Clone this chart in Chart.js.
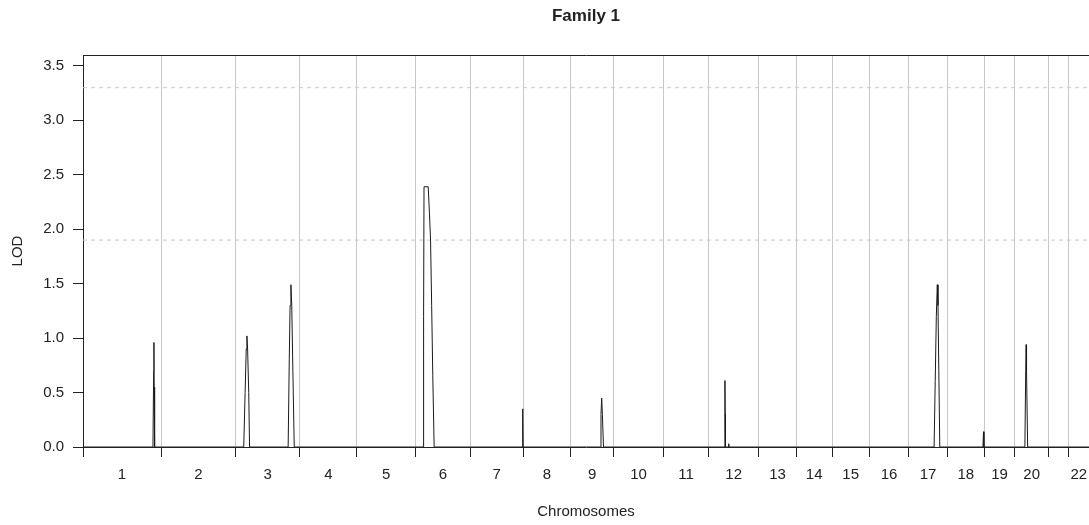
<!DOCTYPE html>
<html>
<head>
<meta charset="utf-8">
<title>Family 1</title>
<script src="https://cdn.jsdelivr.net/npm/chart.js@4.4.1/dist/chart.umd.min.js"></script>
<style>
  html, body { margin: 0; padding: 0; background: #fff; }
  canvas { display: block; }
</style>
</head>
<body>
<canvas id="lodChart" width="1089" height="525"></canvas>
<script>
const chromosomes = ["1", "2", "3", "4", "5", "6", "7", "8", "9", "10", "11",
  "12", "13", "14", "15", "16", "17", "18", "19", "20", "21", "22"];

const chromLengths = [281, 269, 231, 206, 211, 197, 191, 170, 156, 179, 162,
  182, 134, 130, 133, 143, 138, 134, 110, 121, 72, 74];

// labels under the axis - 21 has no room and is left out in the original
const chromTickLabels = ["1", "2", "3", "4", "5", "6", "7", "8", "9", "10", "11",
  "12", "13", "14", "15", "16", "17", "18", "19", "20", "", "22"];

const lodTicks = [0, 0.5, 1, 1.5, 2, 2.5, 3, 3.5];
const thresholds = [3.3, 1.9];

// peaks: chromosome, positions within the chromosome (cM), LOD values
const peakChrom = [1, 3, 3, 6, 7, 9, 12, 12, 17, 18, 20];
const peakPos = [
  [252, 254.5, 255.5, 256.5, 258],
  [29, 34, 38, 40.5, 43, 47, 50],
  [189, 193, 196, 199, 202, 206, 211],
  [27.5, 29, 30.5, 45.5, 50, 54, 58, 62, 67],
  [187, 189, 190.5],
  [107, 110, 112.5, 115, 119],
  [58, 59.5, 60.5, 61.5],
  [71, 73, 75],
  [91, 95, 99, 102.5, 105, 108, 111.5],
  [129, 131, 132.5],
  [36, 39, 40.5, 42, 46],
];
const peakLod = [
  [0, 0.7, 0.96, 0.55, 0],
  [0, 0.5, 0.9, 1.02, 0.9, 0.5, 0],
  [0, 0.8, 1.3, 1.49, 1.3, 0.7, 0],
  [0, 1.2, 2.39, 2.39, 2.15, 1.9, 1.3, 0.66, 0],
  [0, 0.35, 0],
  [0, 0.3, 0.45, 0.3, 0],
  [0, 0.61, 0.3, 0],
  [0, 0.03, 0],
  [0, 0.6, 1.2, 1.49, 1.3, 0.7, 0],
  [0, 0.14, 0],
  [0, 0.7, 0.94, 0.7, 0],
];

const chromStart = [];
let acc = 0;
for (const len of chromLengths) {
  chromStart.push(acc);
  acc += len;
}
const genomeLength = acc;
const boundaries = [...chromStart, genomeLength];
const midpoints = chromStart.map((s, i) => s + chromLengths[i] / 2);

const isBoundary = new Set(boundaries);
const labelAt = new Map(midpoints.map((m, i) => [m, chromTickLabels[i]]));
const xTicks = [...boundaries, ...midpoints].sort((a, b) => a - b);

function buildLodSeries() {
  const pts = [];
  chromosomes.forEach((c, i) => {
    const start = chromStart[i];
    pts.push({ x: start, y: 0 });
    peakChrom.forEach((pc, k) => {
      if (pc !== i + 1) return;
      peakPos[k].forEach((p, j) => pts.push({ x: start + p, y: peakLod[k][j] }));
    });
    pts.push({ x: start + chromLengths[i], y: 0 });
  });
  return pts;
}

Chart.defaults.font.family = "'Liberation Sans', Arial, sans-serif";
Chart.defaults.color = "#222";

const INK = "#222";
const NONE = "rgba(0,0,0,0)";

new Chart(document.getElementById("lodChart"), {
  type: "line",
  data: {
    datasets: [
      {
        label: "LOD",
        data: buildLodSeries(),
        borderColor: "#1a1a1a",
        borderWidth: 1,
        pointRadius: 0,
        tension: 0,
      },
      ...thresholds.map((t) => ({
        label: "threshold " + t,
        data: [{ x: 0, y: t }, { x: genomeLength, y: t }],
        borderColor: "#c8c8c8",
        borderDash: [4, 4],
        borderWidth: 1,
        pointRadius: 0,
      })),
    ],
  },
  options: {
    responsive: false,
    animation: false,
    devicePixelRatio: 1,
    layout: { padding: 0 },
    plugins: {
      legend: { display: false },
      tooltip: { enabled: false },
    },
    scales: {
      x: {
        type: "linear",
        position: "bottom",
        min: 0,
        max: genomeLength,
        afterBuildTicks: (s) => { s.ticks = xTicks.map((v) => ({ value: v })); },
        afterFit: (s) => { s.height = 78; },
        ticks: {
          autoSkip: false,
          maxRotation: 0,
          minRotation: 0,
          padding: 0,
          font: { size: 15, lineHeight: 2.4 },
          callback: (v) => labelAt.get(v) ?? "",
        },
        grid: {
          drawOnChartArea: true,
          tickLength: 10,
          color: (ctx) => {
            const v = ctx.tick ? ctx.tick.value : null;
            if (!isBoundary.has(v) || v === 0 || v === genomeLength) return NONE;
            return "#c8c8c8";
          },
          tickColor: (ctx) => (ctx.tick && isBoundary.has(ctx.tick.value) ? INK : NONE),
        },
        border: { color: INK, width: 1 },
        title: {
          display: true,
          text: "Chromosomes",
          font: { size: 15, lineHeight: 1 },
          padding: { top: 0, bottom: 5.5 },
        },
      },
      y: {
        type: "linear",
        position: "left",
        min: 0,
        max: 3.6,
        afterBuildTicks: (s) => { s.ticks = lodTicks.map((v) => ({ value: v })); },
        afterFit: (s) => { s.width = 83; },
        ticks: {
          padding: 9,
          font: { size: 15 },
          callback: (v) => Number(v).toFixed(1),
        },
        grid: {
          drawOnChartArea: false,
          drawTicks: true,
          tickLength: 10,
          tickColor: INK,
        },
        border: { color: INK, width: 1 },
        title: {
          display: true,
          text: "LOD",
          font: { size: 15, lineHeight: 1.2 },
          padding: { top: 9, bottom: 0 },
        },
      },
      xTop: {
        type: "linear",
        position: "top",
        min: 0,
        max: genomeLength,
        afterFit: (s) => { s.height = 55; },
        ticks: { display: false },
        grid: { drawOnChartArea: false, drawTicks: false },
        border: { display: true, color: INK, width: 1 },
        title: {
          display: true,
          text: "Family 1",
          font: { size: 17, weight: "bold", lineHeight: 1 },
          padding: { top: 8, bottom: 0 },
        },
      },
    },
  },
});
</script>
</body>
</html>
